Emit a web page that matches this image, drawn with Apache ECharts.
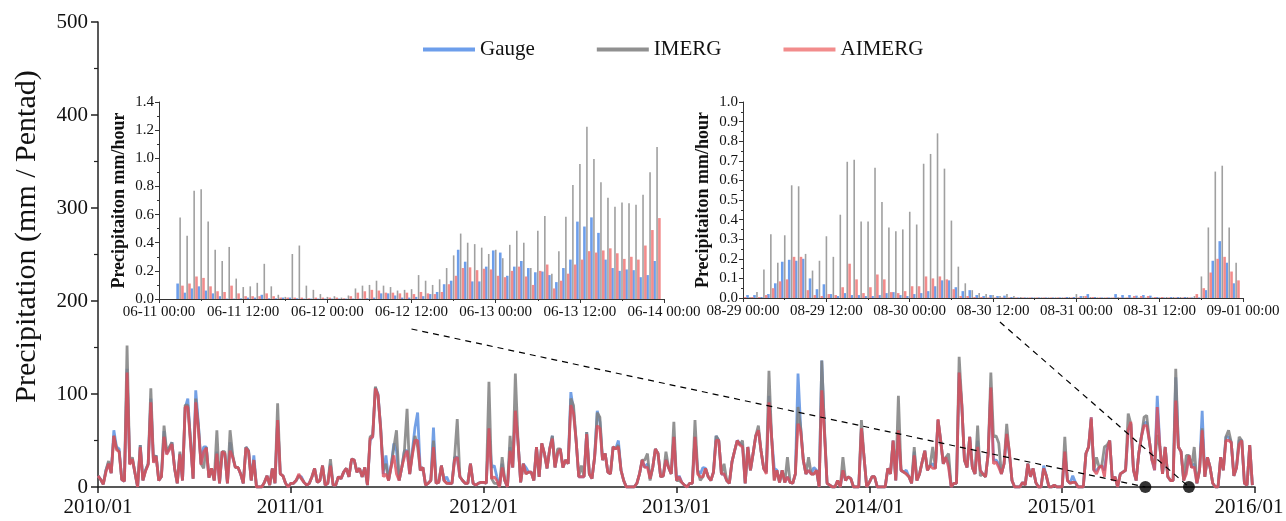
<!DOCTYPE html>
<html><head><meta charset="utf-8">
<script src="https://cdn.jsdelivr.net/npm/echarts@6/dist/echarts.min.js"></script>
<style>html,body{margin:0;padding:0;background:#fff}#c{width:1286px;height:521px}</style>
</head><body><div id="c"></div>
<script>
// ---- Main pentad series (73 pentads per year, 2010-2015) ----
const yearLabels = ['2010/01','2011/01','2012/01','2013/01','2014/01','2015/01','2016/01'];
const gauge = [
12,8,3,18,26,15,61,43,41,8,6,127,25,30,15,0,45,7,18,25,95,27,34,7,11,60,36,41,48,20,4,36,7,85,95,50,9,104,68,25,43,43,10,20,7,38,4,38,36,4,48,32,21,21,14,4,43,39,7,34,0,0,0,5,12,2,20,4,72,14,12,4,0,
4,4,7,12,11,5,2,4,11,20,5,7,23,2,4,25,2,2,11,9,16,20,11,30,29,16,20,11,21,2,50,54,107,100,64,14,34,7,23,47,39,7,21,39,39,14,39,64,80,18,21,2,4,7,64,4,5,23,7,11,4,4,32,32,11,7,4,4,25,4,2,4,5,
5,4,63,21,23,11,0,25,7,0,43,21,82,50,5,25,21,16,16,7,43,11,47,36,20,41,55,21,36,41,21,29,25,102,82,50,11,11,11,59,14,9,32,82,70,29,36,16,14,43,41,50,18,7,0,0,0,0,4,14,29,21,25,9,21,41,36,11,12,30,21,14,54,
7,12,5,2,0,4,4,54,18,14,21,20,11,7,16,55,50,14,14,7,4,27,39,50,47,45,4,43,18,36,55,61,39,20,16,98,54,20,18,5,18,5,11,5,4,14,122,64,29,14,18,14,21,18,0,136,61,4,2,0,0,7,0,18,7,11,9,0,0,0,63,32,0,
5,11,11,0,0,0,0,20,14,50,7,57,18,16,18,11,4,38,7,14,27,39,18,23,25,20,72,50,25,32,25,0,4,4,123,88,29,21,54,21,14,50,18,14,11,36,107,29,29,25,14,25,57,36,7,0,0,0,5,2,25,11,20,5,0,0,23,12,0,0,2,0,0,
0,38,7,4,12,5,0,0,0,36,43,75,18,18,21,23,18,41,50,7,11,0,14,16,18,61,68,18,7,36,54,68,70,50,29,18,98,43,14,43,11,7,7,118,43,38,7,18,34,21,25,4,18,82,11,32,21,4,0,0,32,18,54,54,48,12,21,50,50,4,2,45,2
];
const imerg = [
12,8,3,18,28,15,55,42,38,8,7,152,25,32,15,0,45,7,18,25,106,28,34,7,11,66,38,43,48,20,4,38,7,88,88,52,9,95,66,25,20,43,10,20,7,61,4,38,38,4,61,34,21,21,14,4,43,39,7,29,0,0,0,5,12,2,20,4,90,14,12,4,0,
4,4,7,12,9,5,2,4,11,20,5,7,23,2,4,30,2,2,11,9,16,20,11,30,29,16,20,11,21,2,54,56,108,98,64,18,25,7,23,43,61,7,21,39,84,14,36,55,43,18,21,2,4,7,50,4,5,23,7,4,4,4,32,73,11,7,4,4,25,4,2,4,5,
5,4,113,9,4,4,0,32,7,0,55,21,122,50,5,25,14,16,16,7,43,11,47,36,20,41,55,21,41,41,21,29,25,95,88,50,11,23,11,59,14,9,32,80,75,29,36,16,14,43,41,45,18,7,0,0,0,0,4,14,29,29,36,7,21,41,36,11,12,38,21,14,70,
7,7,5,2,0,4,4,72,18,7,11,20,11,7,16,55,50,14,25,7,4,27,39,50,45,50,4,43,18,36,55,66,39,20,16,125,54,7,18,5,18,5,32,5,4,14,86,64,29,14,32,14,14,18,0,136,64,4,2,0,0,7,0,32,7,11,9,0,0,0,72,32,0,
5,11,11,0,0,0,0,20,14,50,7,98,18,16,14,11,4,43,7,14,27,39,18,23,43,20,72,50,25,32,36,0,4,4,140,90,29,21,54,21,14,66,12,14,11,36,123,54,55,47,14,25,68,36,7,0,0,0,5,2,25,11,20,5,0,0,20,12,0,0,2,0,0,
0,54,7,4,5,5,0,0,0,36,43,73,18,32,21,23,43,45,50,7,11,0,14,16,18,79,68,18,7,36,54,75,77,50,29,25,56,43,14,43,11,7,7,127,43,38,7,34,34,21,43,4,18,63,11,32,21,4,0,0,32,18,54,61,48,12,21,54,50,4,2,45,2
];
const aimerg = [
12,8,3,16,25,15,55,40,38,8,6,123,24,30,15,0,43,7,17,24,91,26,33,7,11,54,35,40,46,20,4,35,7,86,86,48,9,91,62,24,38,42,10,20,7,36,4,38,36,4,39,32,21,21,14,4,42,38,7,29,0,0,0,5,12,2,20,4,72,14,12,4,0,
4,4,7,14,9,5,2,4,11,20,5,7,23,2,4,23,2,2,11,9,16,20,11,30,29,16,20,11,21,2,52,54,106,99,62,11,14,7,22,34,14,7,21,32,39,14,34,50,50,18,21,2,4,7,43,4,5,23,7,4,4,4,29,32,11,7,4,4,25,4,2,4,5,
5,4,63,9,11,7,0,21,7,0,39,21,82,48,5,25,14,16,16,7,43,11,47,36,20,41,52,21,36,41,21,29,25,88,79,50,11,11,11,57,14,9,32,66,63,29,36,16,14,43,41,43,18,7,0,0,0,0,4,14,29,21,21,9,21,41,36,11,12,29,21,14,54,
7,11,5,2,0,4,4,54,14,11,11,20,11,7,16,50,50,14,14,7,4,27,39,50,45,43,4,43,18,36,55,61,39,20,14,91,54,7,18,5,18,5,11,5,4,14,68,60,29,14,18,14,14,18,0,104,58,4,2,0,0,7,0,18,7,11,9,0,0,0,63,32,0,
5,11,11,0,0,0,0,20,14,50,7,61,18,16,14,11,4,34,7,14,27,39,18,23,20,20,73,50,25,32,21,0,4,4,123,88,29,21,54,21,14,43,18,14,11,36,107,25,27,21,14,25,57,39,7,0,0,0,5,2,25,11,20,5,0,0,20,12,0,0,2,0,0,
0,38,7,4,5,5,0,0,0,36,43,75,18,14,21,23,11,39,50,7,11,0,14,16,18,61,70,18,7,36,54,66,66,50,29,18,86,43,14,43,11,7,7,93,43,38,7,14,34,21,21,4,18,61,11,32,21,4,0,0,32,18,50,50,48,12,21,46,50,4,2,45,2
];
// event markers (pentad index) : 2015-06-11 and 2015-09-01
const eventDots = [396.5, 413];

// ---- Inset 1: hourly, 06-11 00:00 .. 06-14 00:00 ----
const e1Gauge = [0,0,0,0.11,0.045,0.075,0.09,0.06,0.04,0.02,0.003,0.003,0.005,0.01,0.01,0.03,0.005,0.005,0.01,0.01,0.005,0.003,0.003,0.003,0.003,0.003,0.003,0.003,0.003,0.003,0.005,0.01,0.04,0.04,0.025,0.01,0.01,0.015,0.02,0.035,0.05,0.105,0.13,0.35,0.265,0.125,0.125,0.23,0.345,0.33,0.165,0.23,0.27,0.22,0.19,0.195,0.17,0.12,0.22,0.28,0.55,0.515,0.58,0.47,0.28,0.22,0.2,0.21,0.205,0.155,0.17,0.27];
const e1Imerg = [0,0,0,0.58,0.45,0.77,0.78,0.55,0.35,0.27,0.37,0.145,0.085,0.09,0.115,0.25,0.09,0.03,0.015,0.32,0.38,0.095,0.065,0.035,0.015,0.02,0.01,0.025,0.075,0.095,0.1,0.13,0.095,0.085,0.06,0.065,0.07,0.17,0.13,0.1,0.14,0.22,0.31,0.465,0.4,0.39,0.365,0.32,0.35,0.29,0.385,0.485,0.4,0.22,0.485,0.59,0.18,0.34,0.585,0.81,0.96,1.225,0.995,0.83,0.72,0.655,0.685,0.68,0.67,0.74,0.9,1.08];
const e1Aimerg = [0,0,0,0.095,0.11,0.16,0.15,0.09,0.055,0.05,0.095,0.04,0.02,0.02,0.02,0.04,0.02,0.01,0.01,0.01,0.01,0.005,0.01,0.01,0.01,0.01,0.005,0.02,0.045,0.055,0.065,0.06,0.045,0.045,0.04,0.045,0.035,0.05,0.04,0.035,0.05,0.105,0.165,0.22,0.225,0.205,0.215,0.21,0.165,0.155,0.2,0.23,0.16,0.1,0.2,0.245,0.075,0.13,0.18,0.245,0.28,0.34,0.33,0.345,0.36,0.325,0.285,0.3,0.28,0.38,0.49,0.575];

// ---- Inset 2: hourly, 08-29 00:00 .. 09-01 00:00 ----
const e2Gauge = [0,0.015,0.015,0.005,0.02,0.075,0.185,0.195,0.19,0.2,0.1,0.045,0.07,0.02,0.01,0.025,0.015,0.015,0.01,0.01,0.015,0.025,0.03,0.015,0.01,0.02,0.025,0.035,0.06,0.09,0.09,0.055,0.035,0.04,0.015,0.01,0.015,0.01,0.012,0.005,0.003,0.003,0.003,0.003,0.003,0.003,0.003,0.005,0.005,0.01,0.02,0.005,0.003,0.003,0.02,0.015,0.015,0.012,0.015,0.012,0.005,0.003,0.005,0.005,0.005,0.003,0.003,0.04,0.19,0.29,0.18,0.075];
const e2Imerg = [0,0.005,0.03,0.145,0.325,0.18,0.32,0.575,0.57,0.225,0.14,0.19,0.315,0.21,0.425,0.695,0.705,0.39,0.39,0.665,0.49,0.36,0.34,0.35,0.44,0.375,0.685,0.735,0.84,0.66,0.395,0.16,0.075,0.04,0.025,0.02,0.015,0.01,0.02,0.01,0.005,0.003,0.003,0.003,0.003,0.003,0.003,0.005,0.02,0.01,0.005,0.003,0.003,0.003,0.005,0.003,0.003,0.003,0.003,0.003,0.003,0.005,0.005,0.005,0.005,0.01,0.11,0.36,0.645,0.675,0.36,0.18];
const e2Aimerg = [0.005,0.005,0.005,0.015,0.05,0.085,0.095,0.21,0.21,0.04,0.015,0.01,0.02,0.015,0.055,0.175,0.095,0.025,0.055,0.12,0.095,0.03,0.025,0.035,0.06,0.06,0.11,0.1,0.11,0.095,0.045,0.01,0.01,0.005,0.005,0.003,0.003,0.003,0.003,0.003,0.003,0.003,0.003,0.003,0.003,0.003,0.003,0.003,0.003,0.01,0.005,0.003,0.003,0.003,0.003,0.003,0.01,0.01,0.01,0.005,0.005,0.003,0.003,0.003,0.003,0.02,0.05,0.13,0.2,0.21,0.135,0.09];

const FONT = "'Liberation Serif','Times New Roman',serif";
const C_G = '#5b8fe0', C_I = '#7f7f7f', C_A = '#dc4c5a';
const B_G = '#6d9eeb', B_I = '#a0a0a0', B_A = '#f28c8c';

function pad(n){return (n<10?'0':'')+n;}
function hourLabel(base){
  return function(v){
    const d = new Date(base + v*3600e3);
    return pad(d.getUTCMonth()+1)+'-'+pad(d.getUTCDate())+' '+pad(d.getUTCHours())+':00';
  };
}
const base1 = Date.UTC(2015,5,11), base2 = Date.UTC(2015,7,29);

function idx(arr){ return arr.map((v,i)=>[i,v]); }

const axisCol = '#333';
function insetX(gi, fmt){
  return {type:'value', gridIndex:gi, min:0, max:72, interval:12,
    axisLine:{lineStyle:{color:axisCol,width:1}},
    axisTick:{length:4,lineStyle:{color:axisCol}},
    minorTick:{show:true,splitNumber:2,length:2,lineStyle:{color:axisCol}},
    splitLine:{show:false},
    axisLabel:{formatter:fmt, fontFamily:FONT, fontSize:15, color:'#111', margin:6, showMaxLabel:true}};
}
function insetY(gi, max, itv){
  return {type:'value', gridIndex:gi, min:0, max:max, interval:itv,
    name:'Precipitaiton mm/hour', nameLocation:'middle', nameGap:31,
    nameTextStyle:{fontFamily:FONT, fontSize:18, fontWeight:'bold', color:'#111'},
    axisLine:{show:true,lineStyle:{color:axisCol,width:1}},
    axisTick:{show:true,length:4,lineStyle:{color:axisCol}},
    minorTick:{show:true,splitNumber:2,length:2,lineStyle:{color:axisCol}},
    splitLine:{show:false},
    axisLabel:{formatter:v=>v.toFixed(1), fontFamily:FONT, fontSize:15, color:'#111', margin:5}};
}
function bars(name, data, xi, color, w){
  return {name:name, type:'bar', xAxisIndex:xi, yAxisIndex:xi, data:idx(data),
    barWidth:w, barGap:'15%', itemStyle:{color:color}, silent:true, z:3};
}

const chart = echarts.init(document.getElementById('c'));
const option = {
  animation:false,
  backgroundColor:'#fff',
  legend:{
    left:418, top:34, icon:'rect', itemWidth:52, itemHeight:4, itemGap:62,
    textStyle:{fontFamily:FONT, fontSize:21, color:'#111'},
    data:[{name:'Gauge',itemStyle:{color:B_G}},{name:'IMERG',itemStyle:{color:'#909090'}},{name:'AIMERG',itemStyle:{color:B_A}}]
  },
  grid:[
    {left:98, right:31, top:22, bottom:34, outerBoundsMode:'none', containLabel:false},
    {left:159, right:622, top:102, bottom:222, outerBoundsMode:'none', containLabel:false},
    {left:743, right:43, top:102, bottom:223, outerBoundsMode:'none', containLabel:false}
  ],
  xAxis:[
    {type:'value', gridIndex:0, min:0, max:438, interval:73,
      axisLine:{lineStyle:{color:'#222',width:1.5}},
      axisTick:{length:6,lineStyle:{color:'#222',width:1.5}},
      splitLine:{show:false},
      axisLabel:{formatter:function(v){
          const i = Math.round(v/73);
          return i === yearLabels.length-1 ? '{last|'+yearLabels[i]+'}' : yearLabels[i];
        },
        rich:{last:{fontFamily:FONT, fontSize:21, color:'#111', padding:[0,12,0,0]}},
        fontFamily:FONT, fontSize:21, color:'#111', margin:10, showMaxLabel:true}},
    insetX(1, hourLabel(base1)),
    insetX(2, hourLabel(base2))
  ],
  yAxis:[
    {type:'value', gridIndex:0, min:0, max:500, interval:100,
      name:'Precipitation (mm / Pentad)', nameLocation:'middle', nameGap:56,
      nameTextStyle:{fontFamily:FONT, fontSize:30, color:'#111', padding:[0,0,0,36]},
      axisLine:{show:true,lineStyle:{color:'#222',width:1.5}},
      axisTick:{show:true,length:7,lineStyle:{color:'#222',width:1.5}},
      minorTick:{show:true,splitNumber:2,length:4,lineStyle:{color:'#222',width:1.2}},
      splitLine:{show:false},
      axisLabel:{fontFamily:FONT, fontSize:21, color:'#111', margin:10}},
    insetY(1, 1.4, 0.2),
    insetY(2, 1.0, 0.1)
  ],
  series:[
    {name:'Gauge', type:'line', xAxisIndex:0, yAxisIndex:0, data:idx(gauge), symbol:'none',
      lineStyle:{color:C_G, width:2.8, opacity:0.85}, itemStyle:{color:C_G}, z:2},
    {name:'IMERG', type:'line', xAxisIndex:0, yAxisIndex:0, data:idx(imerg), symbol:'none',
      lineStyle:{color:C_I, width:2.8, opacity:0.85}, itemStyle:{color:C_I}, z:2},
    {name:'AIMERG', type:'line', xAxisIndex:0, yAxisIndex:0, data:idx(aimerg), symbol:'none',
      lineStyle:{color:C_A, width:2.8, opacity:0.8}, itemStyle:{color:C_A}, z:2},
    {name:'events', type:'scatter', xAxisIndex:0, yAxisIndex:0, data:eventDots.map(v=>[v,0]),
      symbolSize:12, itemStyle:{color:'#000'}, z:6, silent:true},
    bars('Gauge', e1Gauge, 1, B_G, 2.6),
    bars('IMERG', e1Imerg, 1, B_I, 1.6),
    bars('AIMERG', e1Aimerg, 1, B_A, 2.6),
    bars('Gauge', e2Gauge, 2, B_G, 2.6),
    bars('IMERG', e2Imerg, 2, B_I, 1.6),
    bars('AIMERG', e2Aimerg, 2, B_A, 2.6)
  ]
};
chart.setOption(option);

const s1 = chart.convertToPixel({xAxisIndex:1,yAxisIndex:1},[36,0]);
const s2 = chart.convertToPixel({xAxisIndex:2,yAxisIndex:2},[37,0]);
const d1 = chart.convertToPixel({xAxisIndex:0,yAxisIndex:0},[eventDots[0],0]);
const d2 = chart.convertToPixel({xAxisIndex:0,yAxisIndex:0},[eventDots[1],0]);
const dash = {stroke:'#000', lineWidth:1.2, lineDash:[6,5]};
chart.setOption({graphic:[
  {type:'line', shape:{x1:s1[0], y1:s1[1]+30, x2:d1[0], y2:d1[1]}, style:dash, z:5, silent:true},
  {type:'line', shape:{x1:s2[0], y1:s2[1]+24, x2:d2[0], y2:d2[1]}, style:dash, z:5, silent:true}
]});
</script></body></html>
